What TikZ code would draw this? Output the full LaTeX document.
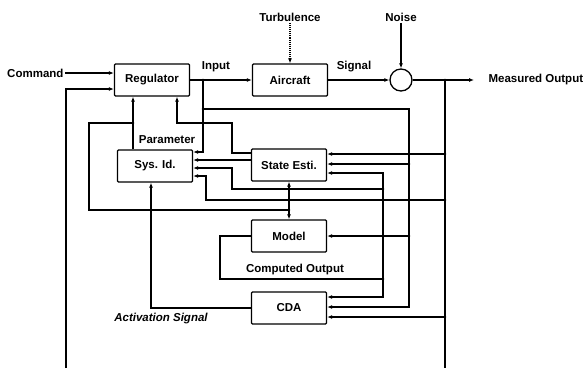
\documentclass[tikz,border=0pt]{standalone}
\usepackage{fontspec}
\setmainfont{Liberation Sans}
\usetikzlibrary{arrows.meta}

\begin{document}
\begin{tikzpicture}[x=1pt, y=-1pt, line width=1.1pt,
  blk/.style={draw, line width=1.3pt, rounded corners=1pt, minimum width=75pt,
    minimum height=32pt, font=\bfseries\fontsize{11.5}{13}\selectfont},
  lbl/.style={inner sep=1pt, font=\bfseries\fontsize{11.5}{13}\selectfont},
  arr/.style={-{Latex[length=5pt,width=4pt]}},
  jdot/.style={circle, fill, inner sep=0pt, minimum size=2.6pt}]
\useasboundingbox (0,0) rectangle (583,368);
\node[blk] (reg) at (152,80) {Regulator};
\node[blk] (air) at (290,80) {Aircraft};
\node[blk] (sys) at (155,166) {Sys. Id.};
\node[blk] (est) at (289,165) {State Esti.};
\node[blk] (mdl) at (289,236) {Model};
\node[blk] (cda) at (289,308) {CDA};
\node[draw, circle, line width=1.3pt, minimum size=22pt, inner sep=0pt] (sum) at (401,80) {};
\node[lbl, anchor=east] (cmd) at (65,73) {Command};
\node[lbl] (turb) at (290,17) {Turbulence};
\node[lbl] (noise) at (401,17) {Noise};
\node[lbl] (lin) at (216,67) {Input};
\node[lbl] (lsig) at (354,67) {Signal};
\node[lbl, anchor=west] (meas) at (487,80) {Measured Output};
\node[lbl] (lpar) at (167,140) {Parameter};
\node[lbl] (lco) at (295,270) {Computed Output};
\node[lbl, font=\bfseries\itshape\fontsize{11.5}{13}\selectfont] (lact) at (161,319) {Activation Signal};
% junctions and buses
\coordinate (jin) at (203,80);
\coordinate (jbr) at (203,109);
\coordinate (busout) at (445,80);
\coordinate (jpar) at (133,123);
\coordinate (jmp) at (289,210);
\coordinate (busin) at (409,109);
\coordinate (busco) at (383,279);
\coordinate (botL) at (66,368);
\coordinate (botR) at (445,368);
\coordinate (mo1) at (445,154);
\coordinate (mo2) at (445,200);
\coordinate (mo3) at (445,317);
% main loop
\draw[arr] (cmd) -- (reg.west |- cmd);
\draw[arr] (botL) |- (reg.west |- 0,89);
\draw[arr] (reg) -- (air);
\draw[arr, densely dotted] (turb) -- (air);
\draw[arr] (air) -- (sum);
\draw[arr] (noise) -- (sum);
\draw[arr] (sum) -- ([xshift=-13pt]meas.west);
\draw (busout) -- (botR);
% input
\draw[arr] (jin) |- (sys.east |- 0,152);
\draw[arr] (jbr) -| (busin |- 0,307) -- (cda.east |- 0,307);
\draw[arr] (busin |- 0,164) -- (est.east |- 0,164);
\draw[arr] (busin |- mdl) -- (mdl);
% measured output
\draw[arr] (mo1) -- (est.east |- mo1);
\draw[arr] (mo2) -| (206,176) -- (sys.east |- 0,176);
\draw[arr] (mo3) -- (cda.east |- mo3);
% estimator
\draw[arr] (est.west |- 0,153) -| (232,123) -| (reg.south -| 177,0);
\draw[arr] (est.west |- 0,160) -- (sys.east |- 0,160);
% computed output
\draw[arr] (mdl.west) -| (220,279) -| (busco |- 0,173) -- (est.east |- 0,173);
\draw[arr] (busco) |- (cda.east |- 0,297);
\draw[arr] (busco |- 0,189) -| (232,168) -- (sys.east |- 0,168);
% parameter
\draw[arr] (sys.north -| jpar) -- (reg.south -| jpar);
\draw[arr] (jpar) -| (89,210) -| (est.south);
\draw[arr] (jmp) -- (mdl);
% activation
\draw[arr] (cda.west) -| (sys.south -| 151,0);
\foreach \p in {jin, jbr, busout, jpar, jmp, busco, mo1, mo2, mo3}
  \node[jdot] at (\p) {};
\node[jdot] at (busin |- 0,164) {};
\node[jdot] at (busin |- mdl) {};
\node[jdot] at (busco |- 0,189) {};
\end{tikzpicture}
\end{document}
